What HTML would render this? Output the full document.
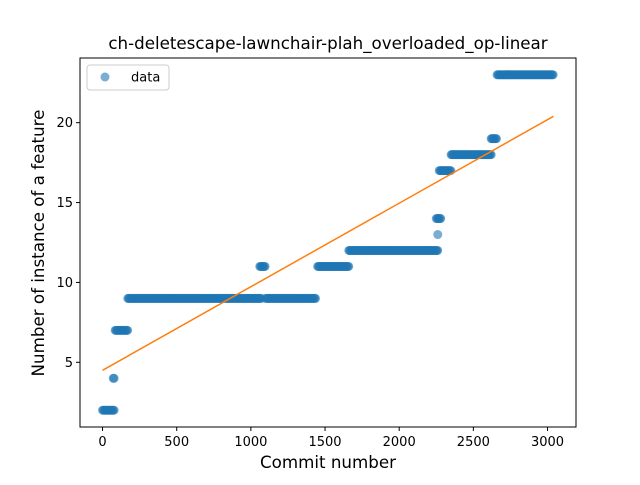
<!DOCTYPE html>
<html><head><meta charset="utf-8"><style>
body{margin:0;background:#fff;}
svg text{font-family:"DejaVu Sans","Liberation Sans",sans-serif;fill:#000;}
</style></head><body>
<svg id="chart" width="640" height="480" xmlns="http://www.w3.org/2000/svg">
<rect width="640" height="480" fill="#fff"/>
<text x="328" y="49" font-size="16.7" text-anchor="middle">ch-deletescape-lawnchair-plah_overloaded_op-linear</text>
<g id="plot"></g>
<rect x="80" y="58" width="496" height="369" fill="none" stroke="#000" stroke-width="1"/>
<g id="axes"></g>
<text x="328" y="468" font-size="16.7" text-anchor="middle">Commit number</text>
<text transform="translate(44,243) rotate(-90)" font-size="16.7" text-anchor="middle">Number of instance of a feature</text>
<g>
<rect x="87" y="65" width="82" height="25" rx="3" fill="#fff" fill-opacity="0.8" stroke="#ccc"/>
<circle cx="105" cy="77" r="4.5" fill="#1f77b4" fill-opacity="0.6"/>
<text x="131" y="81.5" font-size="13">data</text>
</g>
</svg>
<script>
const segStart=[0,72,85,170,1060,1100,1450,1660,2260,2250,2270,2350,2620,2660];
const segEnd=[80,80,170,1070,1100,1440,1660,2260,2260,2280,2350,2620,2660,3040];
const segValue=[2,4,7,9,11,9,11,12,13,14,17,18,19,23];
const xTicks=[0,500,1000,1500,2000,2500,3000];
const yTicks=[5,10,15,20];
const fitX=[0,3040];
const fitY=[4.5,20.4];
const NS="http://www.w3.org/2000/svg";
const X=v=>80+(v+152)/(3344)*496;
const Y=v=>427-(v-0.95)/(23.1)*369;
const plot=document.getElementById('plot'),axes=document.getElementById('axes');
function mk(t,a,p){const e=document.createElementNS(NS,t);for(const k in a)e.setAttribute(k,a[k]);p.appendChild(e);return e;}
for(let i=0;i<segStart.length;i++){
  for(let x=segStart[i];x<=segEnd[i];x+=6){
    const c=mk('circle',{cx:X(x),cy:Y(segValue[i]),r:4.5,fill:'#1f77b4','fill-opacity':0.6},plot);
    
    
  }
}
const ln=mk('line',{x1:X(fitX[0]),y1:Y(fitY[0]),x2:X(fitX[1]),y2:Y(fitY[1]),stroke:'#ff7f0e','stroke-width':1.5},plot);


xTicks.forEach(t=>{
  const g=mk('g',{},axes);
  
  
  mk('line',{x1:X(t),x2:X(t),y1:427,y2:431,stroke:'#000'},g);
  const tx=mk('text',{x:X(t),y:446,'font-size':13,'text-anchor':'middle'},g);tx.textContent=t;
});
yTicks.forEach(t=>{
  const g=mk('g',{},axes);
  
  
  mk('line',{x1:76,x2:80,y1:Y(t),y2:Y(t),stroke:'#000'},g);
  const tx=mk('text',{x:73,y:Y(t)+4.5,'font-size':13,'text-anchor':'end'},g);tx.textContent=t;
});
</script>
</body></html>
